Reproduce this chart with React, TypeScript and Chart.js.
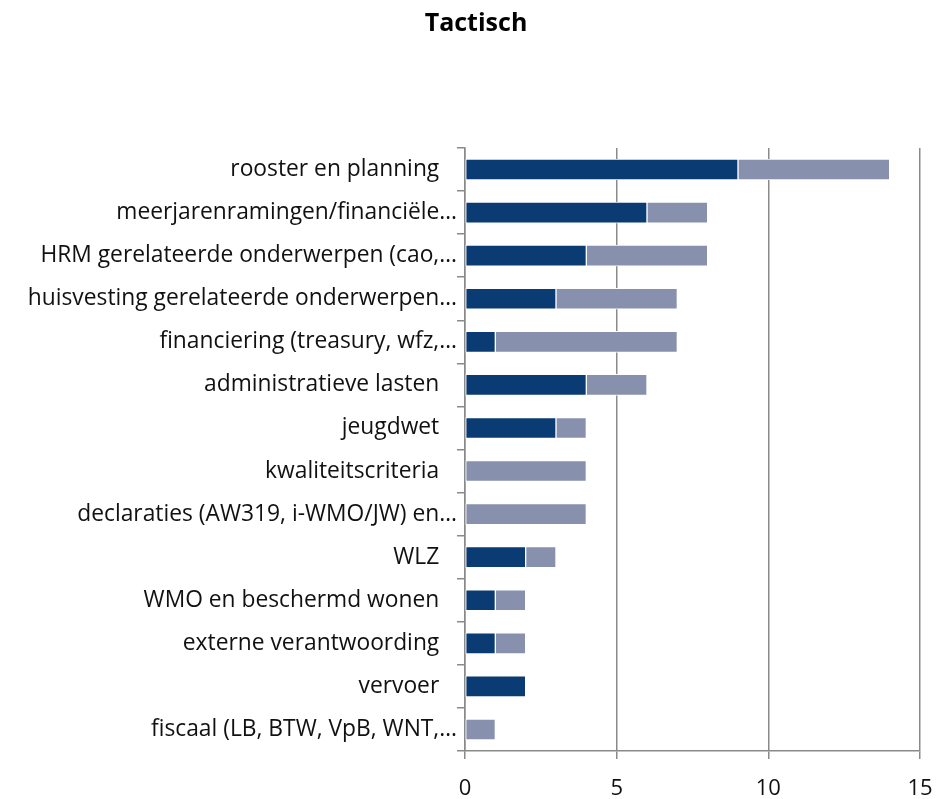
import React, { useEffect, useRef } from "react";
import { Chart, registerables } from "chart.js";

Chart.register(...registerables);

const title = "Tactisch";

const categories: string[] = [
  "rooster en planning",
  "meerjarenramingen/financiële…",
  "HRM gerelateerde onderwerpen (cao,…",
  "huisvesting gerelateerde onderwerpen…",
  "financiering (treasury, wfz,…",
  "administratieve lasten",
  "jeugdwet",
  "kwaliteitscriteria",
  "declaraties (AW319, i-WMO/JW) en…",
  "WLZ",
  "WMO en beschermd wonen",
  "externe verantwoording",
  "vervoer",
  "fiscaal (LB, BTW, VpB, WNT,…",
];

const seriesDark: number[] = [9, 6, 4, 3, 1, 4, 3, 0, 0, 2, 1, 1, 2, 0];
const seriesLight: number[] = [5, 2, 4, 4, 6, 2, 1, 4, 4, 1, 1, 1, 0, 1];

const xTicks: number[] = [0, 5, 10, 15];

const FONT = "'Open Sans'";
const GRID = "#8a8a8a";

export default function App() {
  const ref = useRef<HTMLCanvasElement | null>(null);

  useEffect(() => {
    document.body.style.margin = "0";
    const canvas = ref.current;
    if (!canvas) return;
    const toNull = (a: number[]) => a.map((v) => (v === 0 ? null : v));
    const titlePlugin = {
      id: "centeredTitle",
      afterDraw(chart: any) {
        const ctx = chart.ctx;
        ctx.save();
        ctx.font = `bold 25px ${FONT}`;
        ctx.fillStyle = "#000";
        ctx.textAlign = "center";
        ctx.textBaseline = "alphabetic";
        ctx.fillText(title, 476, 31);
        ctx.restore();
      },
    };
    const chart = new Chart(canvas, {
      type: "bar",
      data: {
        labels: categories,
        datasets: [
          {
            label: "Serie 1",
            data: toNull(seriesDark) as any,
            backgroundColor: "#0b3b73",
            borderColor: "rgba(255,255,255,0.95)",
            borderWidth: 1,
            borderSkipped: false,
            barThickness: 21,
          },
          {
            label: "Serie 2",
            data: toNull(seriesLight) as any,
            backgroundColor: "#8791ad",
            borderColor: "rgba(255,255,255,0.95)",
            borderWidth: 1,
            borderSkipped: false,
            barThickness: 21,
          },
        ],
      },
      options: {
        indexAxis: "y",
        responsive: false,
        animation: false,
        layout: { padding: { left: 0, right: 21, top: 148, bottom: 0 } },
        plugins: {
          legend: { display: false },
          tooltip: { enabled: false },
          title: { display: false },
        },
        scales: {
          x: {
            stacked: true,
            min: xTicks[0],
            max: xTicks[xTicks.length - 1],
            afterBuildTicks: (scale: any) => {
              scale.ticks = xTicks.map((v) => ({ value: v }));
            },
            afterFit: (scale: any) => {
              scale.height = 48;
              scale.paddingLeft = 0;
              scale.paddingRight = 0;
            },
            grid: {
              color: GRID,
              lineWidth: 1.5,
              tickLength: 8,
              drawTicks: true,
            },
            border: { display: true, color: GRID, width: 1.5 },
            ticks: {
              color: "#111",
              font: { family: FONT, size: 22 },
              padding: 17,
            },
          },
          y: {
            stacked: true,
            afterFit: (scale: any) => {
              scale.width = 465;
            },
            grid: {
              offset: true,
              drawOnChartArea: false,
              color: GRID,
              lineWidth: 1.5,
              tickLength: 8,
            },
            border: { display: true, color: GRID, width: 1.5 },
            ticks: {
              color: "#111",
              font: { family: FONT, size: 22.8 },
              padding: 0,
              autoSkip: false,
              callback: function (this: any, value: any) {
                const lbl = this.getLabelForValue(value) as string;
                return lbl.endsWith("…") ? lbl : lbl + "   ";
              },
            },
          },
        },
      },
      plugins: [titlePlugin],
    });
    return () => chart.destroy();
  }, []);

  return (
    <div style={{ width: 941, height: 799 }}>
      <canvas ref={ref} width={941} height={799} style={{ display: "block" }} />
    </div>
  );
}
